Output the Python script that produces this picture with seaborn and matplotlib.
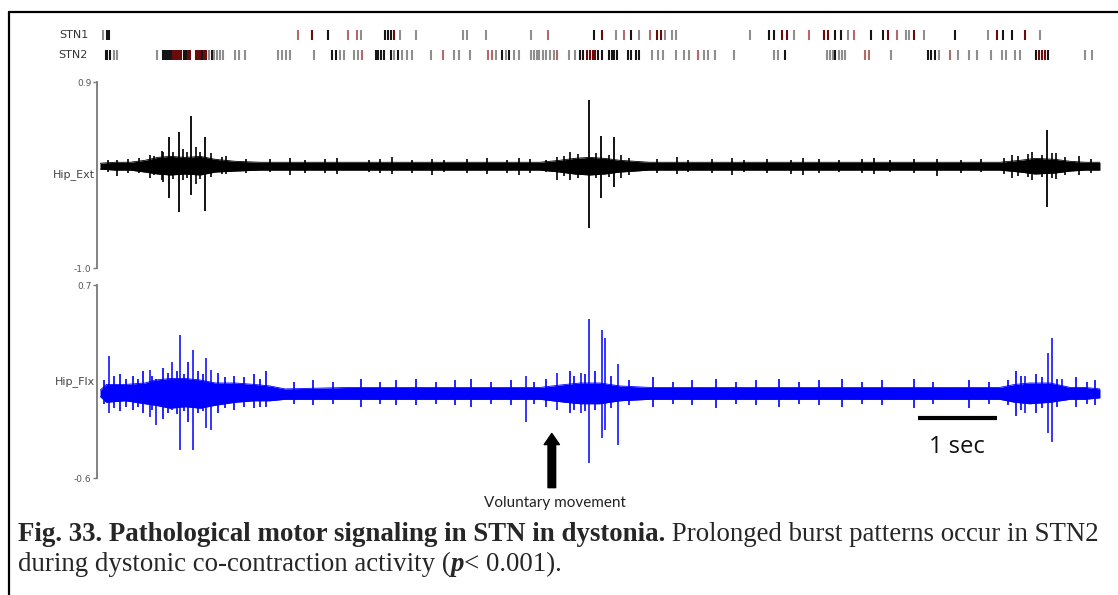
import numpy as np
import matplotlib
matplotlib.use("Agg")
import matplotlib.pyplot as plt
import seaborn as sns
from matplotlib.lines import Line2D

# ---- spike rasters (time in s, colour code per tick) ----
stn1_t = [0.00, 0.05, 0.08, 2.47, 2.65, 2.85, 3.11, 3.23, 3.27, 3.58, 3.62, 3.66, 3.70, 3.77,
          3.97, 4.57, 4.62, 4.86, 5.43, 5.65, 6.23, 6.34, 6.51, 6.61, 6.70, 6.81, 6.95, 7.03,
          7.08, 7.14, 7.23, 7.28, 8.22, 8.46, 8.52, 8.62, 8.68, 8.78, 8.97, 9.15, 9.20, 9.29,
          9.37, 9.46, 9.53, 9.75, 9.91, 9.97, 10.08, 10.19, 10.23, 10.30, 10.42, 10.82, 11.24,
          11.35, 11.43, 11.54, 11.71, 11.90]
stn1_c = "gkk" "rdkrrg" "kkkdg" "g" "gg" "g" "g" "r" "kdgrkgrddggg" "gkkddgr" "ddkkgr" "kkdrggdg" "kgdkkdg"

stn2_t = [0.03, 0.05, 0.09, 0.14, 0.18, 0.68, 0.76, 0.78, 0.81, 0.84, 0.86, 0.89, 0.91, 0.94,
          0.96, 0.99, 1.03, 1.05, 1.08, 1.10, 1.18, 1.20, 1.23, 1.25, 1.28, 1.30, 1.35, 1.38,
          1.41, 1.44, 1.48, 1.52, 1.67, 1.73, 1.80, 2.22, 2.27, 2.32, 2.37, 2.68, 2.91, 2.96,
          3.01, 3.06, 3.19, 3.24, 3.29, 3.46, 3.49, 3.53, 3.57, 3.66, 3.70, 3.75, 3.80, 3.86,
          3.92, 4.16, 4.32, 4.46, 4.52, 4.66, 4.89, 4.94, 4.99, 5.06, 5.11, 5.16, 5.22, 5.28,
          5.43, 5.47, 5.51, 5.54, 5.58, 5.62, 5.67, 5.72, 5.76, 5.92, 5.99, 6.06, 6.10, 6.14,
          6.18, 6.22, 6.25, 6.29, 6.33, 6.42, 6.46, 6.49, 6.53, 6.67, 6.71, 6.77, 6.81, 6.97,
          7.05, 7.11, 7.28, 7.38, 7.44, 7.56, 7.63, 7.68, 7.77, 8.01, 8.52, 8.57, 8.66, 9.19,
          9.23, 9.27, 9.30, 9.34, 9.38, 9.42, 9.67, 9.72, 10.00, 10.48, 10.52, 10.56, 10.61,
          10.75, 10.86, 10.99, 11.10, 11.28, 11.41, 11.47, 11.58, 11.65, 11.85, 11.89, 11.92,
          11.96, 12.00, 12.47, 12.56]
stn2_c = ("kkkgg" "g" "kkkkk" "ddddd" "kkdd" "dddkdd" "gkgggg" "ggg" "gggg" "g" "kkgg" "ggr"
          "kkkk" "kgkggg" "g" "r" "gg" "g" "rrg" "kgkgg" "ggggggggr" "gg" "kkddddkk" "kkkk"
          "kkkk" "ggg" "g" "gg" "r" "gg" "g" "g" "gg" "k" "gggkggg" "rr" "g" "kkkg" "r" "ggg"
          "g" "gggg" "kdddk" "gg")
tick_colors = {"k": "#151515", "d": "#6a0c0c", "g": "#8f8f8f", "r": "#b56a6a"}

# ---- Hip_Ext EMG: noise band core, large spikes, small fuzz ----
ext_t = [0.00, 0.19, 0.38, 0.57, 0.73, 0.89, 1.08, 1.27, 1.46, 1.71, 2.03, 2.53, 3.16, 3.80,
         4.43, 5.06, 5.57, 5.82, 6.01, 6.20, 6.39, 6.58, 6.96, 7.59, 8.23, 8.86, 9.49, 10.13,
         10.76, 11.39, 11.65, 11.84, 12.09, 12.28, 12.47, 12.66]
ext_up = [0.07, 0.08, 0.08, 0.10, 0.13, 0.14, 0.13, 0.14, 0.11, 0.09, 0.08, 0.08, 0.08, 0.08,
          0.08, 0.08, 0.08, 0.10, 0.12, 0.13, 0.12, 0.10, 0.08, 0.08, 0.08, 0.08, 0.08, 0.08,
          0.08, 0.08, 0.10, 0.12, 0.11, 0.09, 0.08, 0.08]
ext_lo = [0.01, 0.00, 0.00, -0.02, -0.04, -0.05, -0.04, -0.05, -0.02, -0.01, 0.00, 0.00, 0.00,
          0.00, 0.00, 0.00, 0.00, -0.02, -0.04, -0.05, -0.04, -0.02, 0.00, 0.00, 0.00, 0.00,
          0.00, 0.00, 0.00, 0.00, -0.02, -0.04, -0.03, -0.01, 0.00, 0.00]
ext_spk_t = [0.87, 1.00, 1.15, 1.33, 6.19, 6.34, 6.51, 11.99]
ext_spk_top = [0.34, 0.39, 0.55, 0.34, 0.72, 0.35, 0.34, 0.41]
ext_spk_bot = [-0.29, -0.43, -0.25, -0.42, -0.59, -0.29, -0.17, -0.38]
ext_fz_t = [0.10, 0.22, 0.35, 0.50, 0.63, 0.68, 0.78, 0.80, 0.93, 1.05, 1.10, 1.22, 1.27, 1.40,
            1.55, 1.60, 1.85, 2.15, 2.40, 2.60, 2.85, 3.00, 3.40, 3.55, 3.70, 3.95, 4.20, 4.35,
            4.65, 4.90, 5.15, 5.30, 5.45, 5.65, 5.78, 5.88, 5.95, 6.05, 6.28, 6.45, 6.60, 6.70,
            7.05, 7.30, 7.45, 7.75, 8.00, 8.15, 8.45, 8.75, 8.90, 9.10, 9.35, 9.65, 9.80, 10.00,
            10.30, 10.60, 10.90, 11.15, 11.45, 11.55, 11.62, 11.75, 11.80, 11.92, 12.05, 12.10,
            12.22, 12.40, 12.55]
ext_fz_top = [0.10, 0.10, 0.11, 0.12, 0.15, 0.14, 0.20, 0.18, 0.19, 0.22, 0.19, 0.24, 0.18,
              0.17, 0.13, 0.14, 0.11, 0.11, 0.12, 0.10, 0.11, 0.12, 0.10, 0.11, 0.13, 0.10, 0.11,
              0.10, 0.11, 0.12, 0.10, 0.12, 0.11, 0.10, 0.13, 0.14, 0.18, 0.16, 0.17, 0.15, 0.15,
              0.12, 0.11, 0.13, 0.10, 0.11, 0.12, 0.10, 0.11, 0.10, 0.12, 0.11, 0.10, 0.11, 0.12,
              0.10, 0.11, 0.11, 0.10, 0.11, 0.12, 0.15, 0.14, 0.16, 0.18, 0.15, 0.17, 0.17, 0.13,
              0.14, 0.11]
ext_fz_bot = [-0.02, -0.06, -0.03, -0.03, -0.08, -0.05, -0.10, -0.12, -0.09, -0.10, -0.08,
              -0.14, -0.09, -0.07, -0.04, -0.04, -0.03, -0.02, -0.05, -0.03, -0.03, -0.04, -0.02,
              -0.03, -0.04, -0.03, -0.05, -0.02, -0.03, -0.04, -0.03, -0.05, -0.03, -0.02, -0.10,
              -0.06, -0.10, -0.08, -0.08, -0.07, -0.08, -0.05, -0.03, -0.04, -0.02, -0.03, -0.05,
              -0.02, -0.03, -0.04, -0.05, -0.03, -0.02, -0.03, -0.04, -0.02, -0.03, -0.06, -0.03,
              -0.02, -0.04, -0.08, -0.06, -0.07, -0.10, -0.07, -0.08, -0.09, -0.05, -0.05, -0.03]

# ---- Hip_Flx EMG ----
flx_t = [0.00, 0.08, 0.32, 0.57, 0.70, 0.89, 1.08, 1.27, 1.46, 1.71, 1.96, 2.15, 2.34, 3.16,
         3.80, 4.43, 5.06, 5.57, 5.89, 6.08, 6.33, 6.58, 6.96, 7.59, 8.23, 8.86, 9.49, 10.13,
         10.76, 11.39, 11.58, 11.77, 12.03, 12.28, 12.47, 12.66]
flx_up = [-0.01, 0.03, 0.03, 0.04, 0.06, 0.07, 0.07, 0.06, 0.04, 0.04, 0.03, 0.02, 0.00, 0.01,
          0.01, 0.01, 0.01, 0.01, 0.03, 0.04, 0.04, 0.02, 0.01, 0.01, 0.01, 0.01, 0.01, 0.01,
          0.01, 0.01, 0.03, 0.04, 0.04, 0.01, 0.01, 0.00]
flx_lo = [-0.05, -0.09, -0.08, -0.10, -0.11, -0.13, -0.12, -0.13, -0.11, -0.09, -0.08, -0.08,
          -0.07, -0.07, -0.07, -0.07, -0.07, -0.07, -0.09, -0.10, -0.10, -0.08, -0.07, -0.07,
          -0.07, -0.07, -0.07, -0.07, -0.07, -0.07, -0.09, -0.10, -0.09, -0.07, -0.07, -0.06]
flx_spk_t = [0.11, 0.63, 0.71, 0.91, 1.01, 1.18, 1.34, 1.41, 5.39, 5.78, 6.09, 6.19, 6.35, 6.39,
             6.56, 11.71, 12.00, 12.05, 12.18]
flx_spk_top = [0.22, 0.13, 0.07, 0.18, 0.36, 0.26, 0.21, 0.13, 0.09, 0.11, 0.11, 0.47, 0.40,
               0.34, 0.17, 0.09, 0.24, 0.34, 0.07]
flx_spk_bot = [-0.16, -0.19, -0.24, -0.14, -0.41, -0.41, -0.26, -0.28, -0.22, -0.14, -0.16,
               -0.50, -0.33, -0.28, -0.38, -0.16, -0.30, -0.36, -0.08]
flx_fz_t = [0.05, 0.18, 0.25, 0.33, 0.42, 0.48, 0.55, 0.66, 0.80, 0.86, 0.97, 1.06, 1.12, 1.24,
            1.30, 1.50, 1.58, 1.70, 1.82, 1.95, 2.03, 2.10, 2.45, 2.70, 2.95, 3.30, 3.55, 3.75,
            4.00, 4.25, 4.50, 4.70, 4.95, 5.20, 5.50, 5.65, 5.95, 6.00, 6.14, 6.27, 6.47, 6.70,
            7.00, 7.25, 7.50, 7.80, 8.05, 8.30, 8.60, 8.85, 9.10, 9.40, 9.65, 9.90, 10.30, 10.55,
            11.00, 11.25, 11.50, 11.60, 11.66, 11.85, 11.92, 12.12, 12.35, 12.50, 12.60]
flx_fz_top = [0.06, 0.09, 0.10, 0.07, 0.09, 0.07, 0.12, 0.09, 0.14, 0.11, 0.12, 0.10, 0.18,
              0.12, 0.10, 0.11, 0.08, 0.09, 0.08, 0.10, 0.07, 0.12, 0.05, 0.06, 0.05, 0.07, 0.05,
              0.06, 0.07, 0.05, 0.06, 0.07, 0.05, 0.06, 0.05, 0.07, 0.12, 0.09, 0.10, 0.12, 0.09,
              0.06, 0.08, 0.05, 0.06, 0.07, 0.05, 0.06, 0.07, 0.05, 0.06, 0.07, 0.05, 0.06, 0.07,
              0.05, 0.06, 0.05, 0.06, 0.12, 0.09, 0.10, 0.08, 0.07, 0.08, 0.05, 0.06]
flx_fz_bot = [-0.10, -0.13, -0.15, -0.12, -0.14, -0.12, -0.16, -0.14, -0.20, -0.16, -0.17,
              -0.15, -0.22, -0.16, -0.15, -0.16, -0.13, -0.14, -0.12, -0.13, -0.12, -0.12,
              -0.10, -0.11, -0.10, -0.12, -0.10, -0.11, -0.11, -0.10, -0.11, -0.12, -0.10,
              -0.11, -0.10, -0.12, -0.16, -0.14, -0.15, -0.14, -0.13, -0.11, -0.12, -0.10,
              -0.11, -0.13, -0.10, -0.11, -0.12, -0.10, -0.11, -0.12, -0.10, -0.11, -0.13,
              -0.10, -0.13, -0.10, -0.11, -0.18, -0.14, -0.16, -0.13, -0.12, -0.12, -0.10, -0.11]

T_END = 12.66
W, H = 1118, 595

sns.set_style("white")
fig = plt.figure(figsize=(W / 100, H / 100), dpi=100)


def fr(px_left, px_top, px_w, px_h):
    return [px_left / W, 1 - (px_top + px_h) / H, px_w / W, px_h / H]


# raster axes
ax_r = fig.add_axes(fr(100, 25, 1000, 40))
for t, c in zip(stn1_t, stn1_c):
    ax_r.vlines(t, 2.5, 3.5, color=tick_colors[c], lw=1.5)
for t, c in zip(stn2_t, stn2_c):
    ax_r.vlines(t, 0.5, 1.5, color=tick_colors[c], lw=1.5)
ax_r.set_xlim(-0.04, T_END)
ax_r.set_ylim(0, 4)
ax_r.axis("off")
for row, name in [(3, "STN1"), (1, "STN2")]:
    ax_r.text(-0.012, row, name, transform=ax_r.get_yaxis_transform(), ha="right",
              va="center", fontsize=8, color="#333333")


def emg_axes(rect, t, up, lo, st, stop, sbot, ft, ftop, fbot, color, lw_spk, ylim, label):
    ax = fig.add_axes(rect)
    ax.fill_between(t, lo, up, color=color, lw=0)
    sns.lineplot(x=t, y=up, ax=ax, color=color, lw=0.6)
    sns.lineplot(x=t, y=lo, ax=ax, color=color, lw=0.6)
    ax.vlines(ft, fbot, ftop, color=color, lw=1.2)
    ax.vlines(st, sbot, stop, color=color, lw=lw_spk)
    ax.set_xlim(0, T_END)
    ax.set_ylim(*ylim)
    for s in ["top", "right", "bottom"]:
        ax.spines[s].set_visible(False)
    ax.spines["left"].set_position(("outward", 2))
    ax.spines["left"].set_color("#7a7a7a")
    ax.spines["left"].set_linewidth(1.3)
    ax.set_xticks([])
    ax.set_yticks(list(ylim))
    ax.set_yticklabels([f"{v:.1f}" for v in ylim])
    ax.tick_params(axis="y", length=3, width=1, color="#7a7a7a", labelsize=6.5,
                   labelcolor="#555555", pad=1, left=True)
    ax.set_ylabel(label, rotation=0, ha="right", va="center", fontsize=8, color="#444444")
    ax.yaxis.set_label_coords(-0.005, 0.5)
    return ax


ax_e = emg_axes(fr(100, 82, 1000, 186), ext_t, ext_up, ext_lo, ext_spk_t, ext_spk_top,
                ext_spk_bot, ext_fz_t, ext_fz_top, ext_fz_bot, "#000000", 1.3,
                (-1.0, 0.9), "Hip_Ext")
ax_f = emg_axes(fr(100, 285, 1000, 193), flx_t, flx_up, flx_lo, flx_spk_t, flx_spk_top,
                flx_spk_bot, flx_fz_t, flx_fz_top, flx_fz_bot, "#0000ff", 1.1,
                (-0.6, 0.7), "Hip_Flx")

# scale bar and voluntary movement arrow
ax_f.plot([10.35, 11.35], [-0.196, -0.196], color="black", lw=3, solid_capstyle="butt",
          clip_on=False)
ax_f.text(10.85, -0.39, "1 sec", ha="center", va="center", fontsize=17, family="Open Sans",
          color="#111111")
ax_f.annotate("", xy=(5.72, -0.30), xytext=(5.72, -0.665), annotation_clip=False,
              arrowprops=dict(facecolor="black", edgecolor="black", width=5.5,
                              headwidth=11, headlength=8, shrink=0))
fig.text(555 / W, 1 - 503 / H, "Voluntary movement", ha="center", va="center",
         fontsize=11, family="Lato", color="#222222")

# figure border (left and top rules)
fig.add_artist(Line2D([9 / W, 9 / W], [0, 1 - 12 / H], color="black", lw=1.6))
fig.add_artist(Line2D([9 / W, 1], [1 - 12 / H, 1 - 12 / H], color="black", lw=1.6))

# caption with mixed weights
serif = "Liberation Serif"
cap = 19.4
renderer = fig.canvas.get_renderer()


def run(parts, x_px, y_px):
    x = x_px / W
    for txt, kw in parts:
        t = fig.text(x, 1 - y_px / H, txt, fontsize=cap, family=serif, va="baseline", **kw)
        bb = t.get_window_extent(renderer=renderer)
        x = bb.x1 / W


run([("Fig. 33. Pathological motor signaling in STN in dystonia.", dict(weight="bold")),
     (" Prolonged burst patterns occur in STN2", {})], 18, 541)
run([("during dystonic co-contraction activity (", {}),
     ("p", dict(weight="bold", style="italic")),
     ("< 0.001).", {})], 18, 571)

fig.savefig("out.png", dpi=100)
